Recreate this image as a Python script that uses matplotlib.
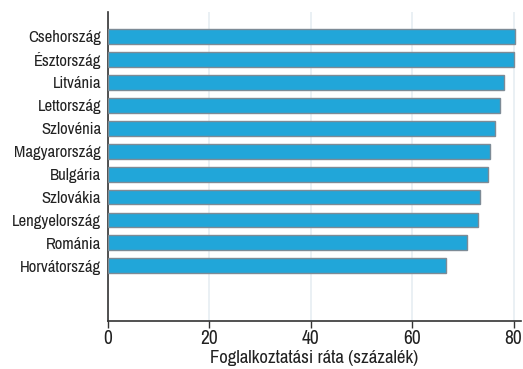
import matplotlib.pyplot as plt

# Adatok
orszagok = ['Csehország', 'Észtország', 'Litvánia', 'Lettország', 'Szlovénia',
            'Magyarország', 'Bulgária', 'Szlovákia', 'Lengyelország', 'Románia',
            'Horvátország']
rata = [80.3, 80.1, 78.2, 77.3, 76.4, 75.3, 75.0, 73.4, 73.0, 70.9, 66.7]
xticks = [0, 20, 40, 60, 80]

plt.rcParams['font.family'] = ['Archivo Narrow', 'DejaVu Sans']

fig = plt.figure(figsize=(5.23, 3.69), dpi=100)
ax = fig.add_axes([0.2065, 0.130, 0.79, 0.837])

pos = list(range(len(orszagok)))
ax.barh(pos, rata, height=0.65, color='#21a6d9', edgecolor='#7d8b96', linewidth=1.0, zorder=3)

ax.set_yticks(pos)
ax.set_yticklabels(orszagok, fontsize=12, color='#222222')
ax.set_ylim(len(orszagok) - 1 + 2.4, -1.05)
ax.set_xlim(0, 81.5)
ax.set_xticks(xticks)
ax.set_xticklabels([str(t) for t in xticks], fontsize=14, color='#222222')
ax.set_xlabel('Foglalkoztatási ráta (százalék)', fontsize=13.5, color='#222222', labelpad=1)

ax.grid(axis='x', color='#e6edf2', linewidth=1.2, zorder=0)
ax.tick_params(axis='y', length=0, pad=5)
ax.tick_params(axis='x', length=5, width=1, color='#333333', pad=1)
for s in ['top', 'right']:
    ax.spines[s].set_visible(False)
for s in ['left', 'bottom']:
    ax.spines[s].set_color('#333333')
    ax.spines[s].set_linewidth(1.2)

fig.savefig('out.png', dpi=100, facecolor='white')
